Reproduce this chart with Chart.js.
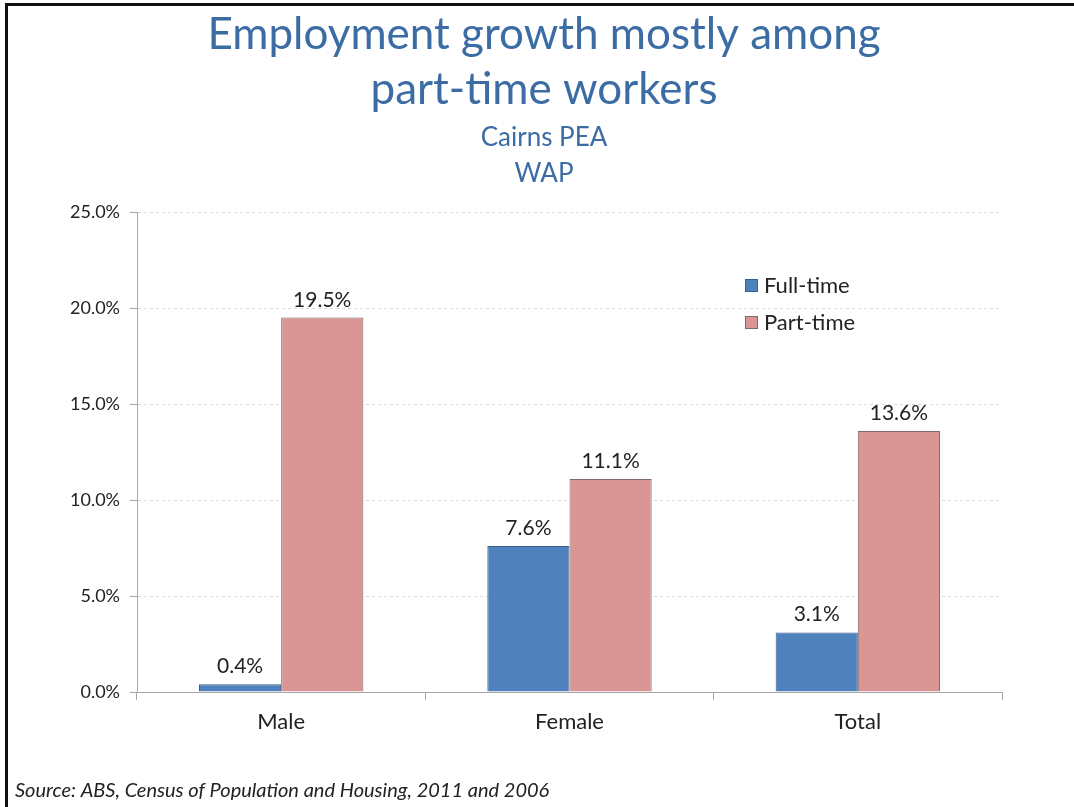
<!DOCTYPE html>
<html>
<head>
<meta charset="utf-8">
<script src="https://cdn.jsdelivr.net/npm/chart.js@4.4.1/dist/chart.umd.min.js"></script>
<style>
  html, body { margin: 0; padding: 0; background: #fff; }
  #wrap { position: relative; width: 1074px; height: 807px; }
  #frame { position: absolute; left: 5px; top: 3px; right: 0; bottom: 0; border-left: 3px solid #111; border-top: 3px solid #111; pointer-events: none; }
  canvas { display: block; }
</style>
</head>
<body>
<div id="wrap">
  <canvas id="growthChart" width="1074" height="807"></canvas>
  <div id="frame"></div>
</div>
<script>
// Datos del gráfico
const categories = ['Male', 'Female', 'Total'];
const fullTime = [0.4, 7.6, 3.1];
const partTime = [19.5, 11.1, 13.6];
const seriesNames = ['Full-time', 'Part-time'];
const yTicks = [0, 5, 10, 15, 20, 25];

const titleLines = ['Employment growth mostly among', 'part-time workers'];
const subtitleLines = ['Cairns PEA', 'WAP'];
const sourceText = 'Source: ABS, Census of Population and Housing, 2011 and 2006';

const FONT = 'Lato, "Open Sans", sans-serif';
const blue = '#3c6ca4';

// Títulos y fuente
const textPlugin = {
  id: 'texts',
  afterDraw(chart) {
    const c = chart.ctx;
    c.save();
    c.fillStyle = blue;
    c.textAlign = 'center';
    c.textBaseline = 'alphabetic';
    c.font = '44px ' + FONT;
    c.fillText(titleLines[0], 544, 49);
    c.fillText(titleLines[1], 544, 104);
    c.font = '26px ' + FONT;
    c.fillText(subtitleLines[0], 544, 146);
    c.fillText(subtitleLines[1], 544, 182);
    c.fillStyle = '#222';
    c.textAlign = 'left';
    c.font = 'italic 20px ' + FONT;
    c.fillText(sourceText, 15, 797);
    c.restore();
  }
};

// Etiquetas de valores sobre las barras
const valueLabels = {
  id: 'valueLabels',
  afterDatasetsDraw(chart) {
    const c = chart.ctx;
    c.save();
    c.fillStyle = '#222';
    c.font = '21px ' + FONT;
    c.textAlign = 'center';
    c.textBaseline = 'alphabetic';
    chart.data.datasets.forEach((ds, i) => {
      chart.getDatasetMeta(i).data.forEach((bar, j) => {
        c.fillText(ds.data[j].toFixed(1) + '%', bar.x, bar.y - 11);
      });
    });
    c.restore();
  }
};

// Leyenda dentro del área del gráfico
const innerLegend = {
  id: 'innerLegend',
  afterDraw(chart) {
    const c = chart.ctx;
    c.save();
    c.font = '22px ' + FONT;
    c.textBaseline = 'middle';
    c.textAlign = 'left';
    chart.data.datasets.forEach((ds, i) => {
      const y = 286 + i * 37;
      c.fillStyle = ds.backgroundColor;
      c.fillRect(745, y - 7, 13, 13);
      c.strokeStyle = ds.borderColor;
      c.lineWidth = 1;
      c.strokeRect(745.5, y - 6.5, 12, 12);
      c.fillStyle = '#222';
      c.fillText(ds.label, 764, y);
    });
    c.restore();
  }
};

const ctx = document.getElementById('growthChart').getContext('2d');
const growthChart = new Chart(ctx, {
  type: 'bar',
  data: {
    labels: categories,
    datasets: [
      {
        label: seriesNames[0],
        data: fullTime,
        backgroundColor: '#4f81bd',
        borderColor: '#3a5f8c',
        borderWidth: 1,
      },
      {
        label: seriesNames[1],
        data: partTime,
        backgroundColor: '#d99694',
        borderColor: '#7f6a6a',
        borderWidth: 1,
      },
    ],
  },
  options: {
    responsive: false,
    animation: false,
    devicePixelRatio: 1,
    layout: { padding: { left: 0, right: 72, top: 212, bottom: 55 } },
    categoryPercentage: 0.57,
    barPercentage: 1,
    plugins: {
      legend: { display: false },
      tooltip: { enabled: false },
    },
    scales: {
      x: {
        afterFit(scale) { scale.height = 60; },
        grid: { drawOnChartArea: false, drawTicks: true, tickLength: 8, tickColor: '#a6a6a6', offset: true },
        border: { display: true, color: '#a6a6a6', width: 1 },
        ticks: { color: '#222', font: { family: FONT, size: 22 }, padding: 9 },
      },
      y: {
        min: 0,
        max: 25,
        afterFit(scale) { scale.width = 137; },
        afterBuildTicks(scale) { scale.ticks = yTicks.map(v => ({ value: v })); },
        grid: { color: '#d9d9d9', lineWidth: 1, tickLength: 7, tickColor: '#a6a6a6' },
        border: { display: true, color: '#a6a6a6', width: 1, dash: [3, 3] },
        ticks: {
          color: '#222',
          font: { family: FONT, size: 18 },
          padding: 10,
          callback: (v) => v.toFixed(1) + '%',
        },
      },
    },
  },
  plugins: [textPlugin, valueLabels, innerLegend],
});
</script>
</body>
</html>
